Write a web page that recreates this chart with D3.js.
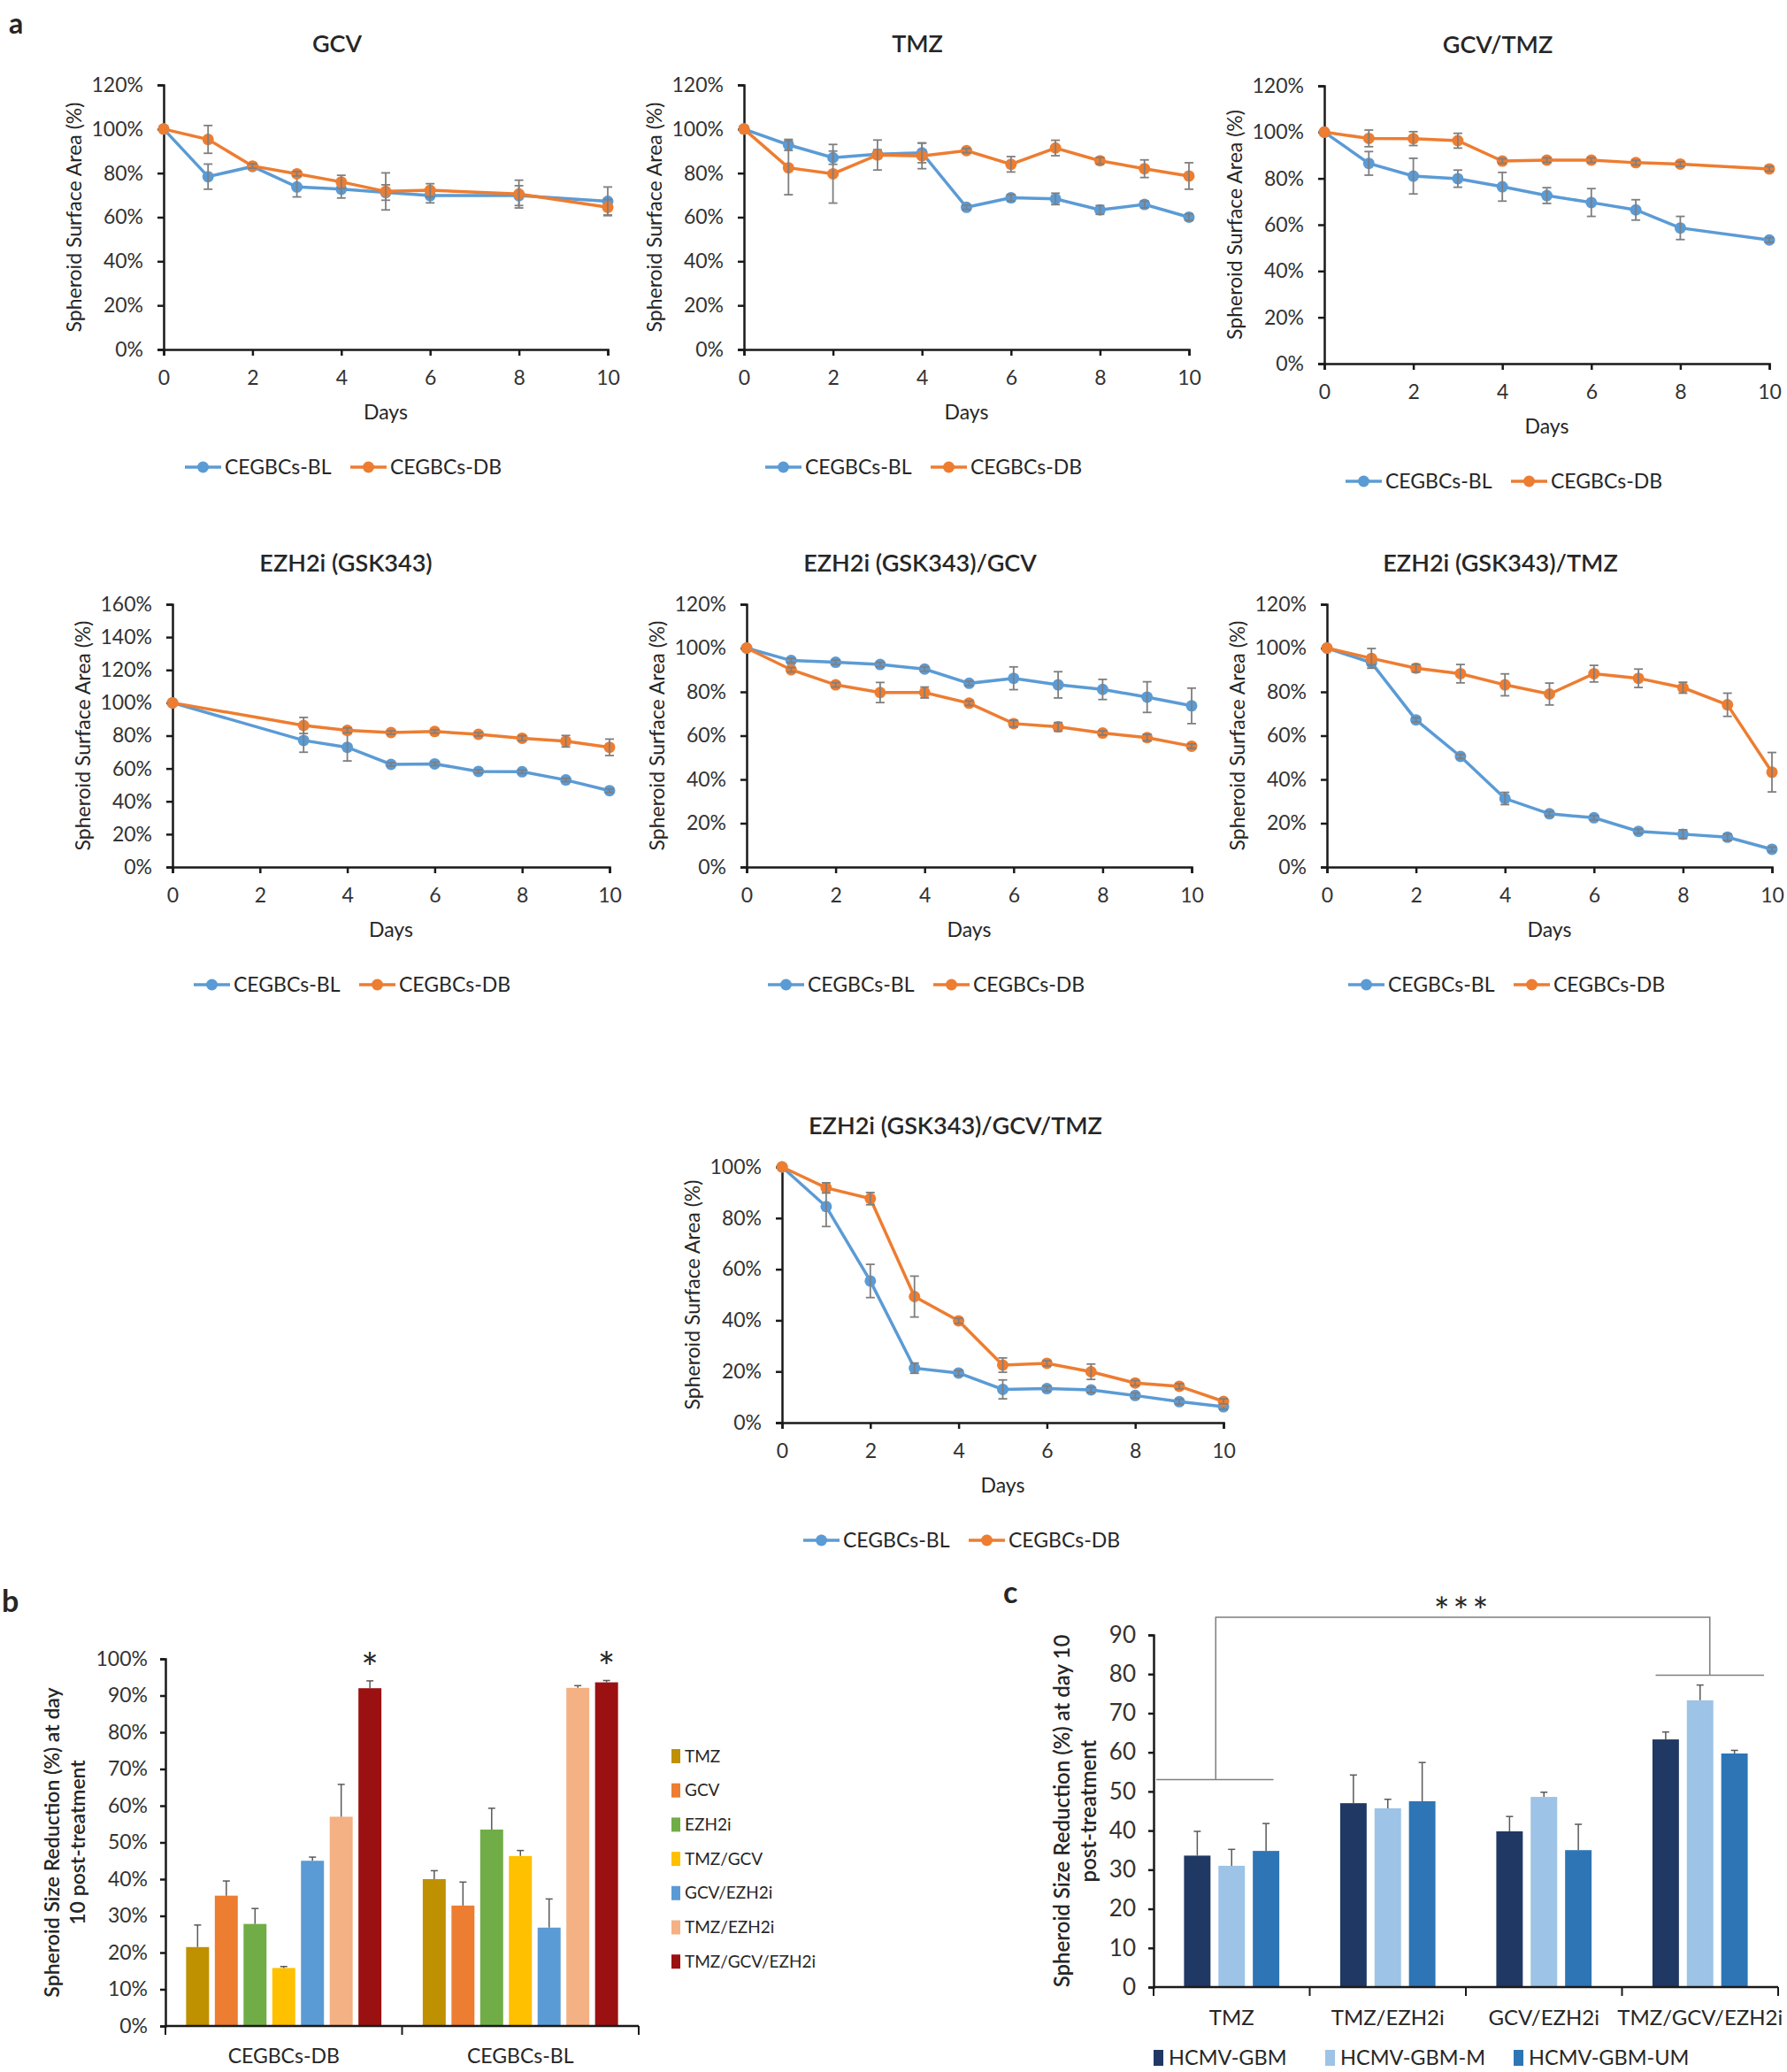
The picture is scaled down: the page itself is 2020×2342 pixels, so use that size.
<!DOCTYPE html>
<html>
<head>
<meta charset="utf-8">
<script src="https://cdnjs.cloudflare.com/ajax/libs/d3/7.8.5/d3.min.js"></script>
<style>
  body { margin: 0; background: #fff; }
  svg text { font-family: Lato, "Noto Sans", sans-serif; fill: #262626; }
  .axis path, .axis line { stroke: #1a1a1a; stroke-width: 2.5; }
  .axis text { font-size: 23px; fill: #333; }
</style>
</head>
<body>
<svg id="fig" width="2020" height="2342"></svg>
<script>
// ---------- panel a : spheroid surface area over time ----------
var seriesNames = ["CEGBCs-BL", "CEGBCs-DB"];

var gcvDays = [0, 1, 2, 3, 4, 5, 6, 8, 10];
var gcvBL = [100, 78.4, 83, 73.7, 72.7, 71.2, 69.8, 69.8, 67.2];
var gcvBLErr = [0, 5.7, 1, 4.5, 4, 3.5, 3.3, 4.5, 6.5];
var gcvDB = [100, 95.3, 83.2, 79.7, 76, 71.7, 72.2, 70.5, 64.5];
var gcvDBErr = [0, 6.3, 1, 1, 3, 8.4, 3, 6.3, 3.5];

var tmzDays = [0, 1, 2, 3, 4, 5, 6, 7, 8, 9, 10];
var tmzBL = [100, 92.8, 87, 88.6, 89.2, 64.5, 68.8, 68.3, 63.3, 65.8, 60];
var tmzBLErr = [0, 2.5, 3, 2, 4.5, 1, 1.5, 2.6, 2, 1.5, 1.5];
var tmzDB = [100, 82.4, 79.7, 88.2, 87.8, 90.2, 84, 91.4, 85.6, 82, 78.7];
var tmzDBErr = [0, 12.2, 13.3, 6.8, 5.8, 1, 3.5, 3.5, 1.5, 4, 6];

var gcvTmzDays = [0, 1, 2, 3, 4, 5, 6, 7, 8, 10];
var gcvTmzBL = [100, 86.5, 81, 79.9, 76.4, 72.6, 69.6, 66.4, 58.6, 53.4];
var gcvTmzBLErr = [0, 5.1, 7.7, 3.7, 6.2, 3.4, 6, 4.4, 5, 1];
var gcvTmzDB = [100, 97.3, 97.2, 96.3, 87.5, 87.9, 87.9, 86.8, 86.2, 84.1];
var gcvTmzDBErr = [0, 3.6, 3, 3.2, 1, 1, 1, 1, 1, 1];

var ezhDays = [0, 3, 4, 5, 6, 7, 8, 9, 10];
var ezhBL = [100, 77.1, 72.9, 62.5, 62.8, 58.2, 58, 53, 46.5];
var ezhBLErr = [0, 7.2, 8.3, 1, 1, 1, 1, 1, 1];
var ezhDB = [100, 86.2, 83.2, 81.9, 82.5, 80.8, 78.4, 76.6, 72.9];
var ezhDBErr = [0, 4.9, 1.5, 1, 1, 1, 1.5, 3.5, 5];

var ezhGcvDays = [0, 1, 2, 3, 4, 5, 6, 7, 8, 9, 10];
var ezhGcvBL = [100, 94.3, 93.5, 92.5, 90.4, 83.9, 86.2, 83.2, 81.1, 77.6, 73.6];
var ezhGcvBLErr = [0, 1, 1, 1, 1, 1, 5.2, 6, 4.6, 7, 8.1];
var ezhGcvDB = [100, 90.1, 83.2, 79.7, 79.7, 74.8, 65.5, 64, 61.2, 59.1, 55.2];
var ezhGcvDBErr = [0, 1, 1, 4.6, 2.5, 1, 1.5, 2, 1, 1.5, 1];

var ezhTmzDays = [0, 1, 2, 3, 4, 5, 6, 7, 8, 9, 10];
var ezhTmzBL = [100, 93.3, 67.2, 50.5, 31.3, 24.3, 22.5, 16.3, 15, 13.6, 8.1];
var ezhTmzBLErr = [0, 1, 1, 1, 2.8, 1, 1, 1, 2, 1.5, 1];
var ezhTmzDB = [100, 95.3, 90.8, 88.3, 83.2, 79, 88.3, 86.2, 81.9, 74.1, 43.3];
var ezhTmzDBErr = [0, 4.5, 1.8, 4.2, 5, 5, 3.8, 4.2, 2.5, 5.3, 9];

var tripleDays = [0, 1, 2, 3, 4, 5, 6, 7, 8, 9, 10];
var tripleBL = [100, 84.5, 55.4, 21.3, 19.4, 13, 13.3, 12.8, 10.6, 8.2, 6.2];
var tripleBLErr = [0, 7.8, 6.5, 2, 1, 3.7, 1, 1, 1, 1, 1];
var tripleDB = [100, 91.8, 87.6, 49.3, 39.8, 22.5, 23.2, 19.9, 15.5, 14.2, 8.3];
var tripleDBErr = [0, 2, 2.4, 8, 1, 2.8, 1, 3, 1, 1, 1];

// ---------- panel b : reduction at day 10 ----------
var treatments = ["TMZ", "GCV", "EZH2i", "TMZ/GCV", "GCV/EZH2i", "TMZ/EZH2i", "TMZ/GCV/EZH2i"];
var cellLines = ["CEGBCs-DB", "CEGBCs-BL"];
var dbReduction = [21.5, 35.5, 27.8, 15.8, 45, 57, 92];
var dbReductionErr = [6, 4, 4.2, 0.4, 1, 8.8, 2];
var blReduction = [40, 32.8, 53.5, 46.3, 26.8, 92.1, 93.6];
var blReductionErr = [2.3, 6.4, 5.8, 1.5, 7.8, 0.6, 0.5];

// ---------- panel c : HCMV-GBM cultures ----------
var treatmentsC = ["TMZ", "TMZ/EZH2i", "GCV/EZH2i", "TMZ/GCV/EZH2i"];
var culturesC = ["HCMV-GBM", "HCMV-GBM-M", "HCMV-GBM-UM"];
var gbm = [33.6, 47, 39.8, 63.3];
var gbmErr = [6.2, 7.2, 3.8, 1.9];
var gbmM = [31, 45.7, 48.6, 73.3];
var gbmMErr = [4.2, 2.3, 1.2, 3.9];
var gbmUM = [34.8, 47.5, 35, 59.7];
var gbmUMErr = [7, 9.9, 6.6, 0.8];
var bracketLevels = [53, 79.7, 94.5];

var colorBL = "#5B9BD5", colorDB = "#ED7D31";
var colorsB = ["#BF9000", "#ED7D31", "#70AD47", "#FFC000", "#5B9BD5", "#F4B183", "#9B1111"];
var colorsC = ["#203864", "#9DC3E6", "#2E75B6"];

var svg = d3.select("#fig");

// panel letters
svg.append("text").attr("x", 10).attr("y", 38).text("a").style("font-size", "32px").style("font-weight", "bold");
svg.append("text").attr("x", 2).attr("y", 1822).text("b").style("font-size", "34px").style("font-weight", "bold");
svg.append("text").attr("x", 1134).attr("y", 1812).text("c").style("font-size", "34px").style("font-weight", "bold");

var lineCharts = [
  {title: "GCV", days: gcvDays, bl: gcvBL, blErr: gcvBLErr, db: gcvDB, dbErr: gcvDBErr, yMax: 120, left: 185, right: 687, top: 96, bottom: 395},
  {title: "TMZ", days: tmzDays, bl: tmzBL, blErr: tmzBLErr, db: tmzDB, dbErr: tmzDBErr, yMax: 120, left: 841, right: 1344, top: 96, bottom: 395},
  {title: "GCV/TMZ", days: gcvTmzDays, bl: gcvTmzBL, blErr: gcvTmzBLErr, db: gcvTmzDB, dbErr: gcvTmzDBErr, yMax: 120, left: 1497, right: 2000, top: 97, bottom: 411},
  {title: "EZH2i (GSK343)", days: ezhDays, bl: ezhBL, blErr: ezhBLErr, db: ezhDB, dbErr: ezhDBErr, yMax: 160, left: 195, right: 689, top: 683, bottom: 980},
  {title: "EZH2i (GSK343)/GCV", days: ezhGcvDays, bl: ezhGcvBL, blErr: ezhGcvBLErr, db: ezhGcvDB, dbErr: ezhGcvDBErr, yMax: 120, left: 844, right: 1347, top: 683, bottom: 980},
  {title: "EZH2i (GSK343)/TMZ", days: ezhTmzDays, bl: ezhTmzBL, blErr: ezhTmzBLErr, db: ezhTmzDB, dbErr: ezhTmzDBErr, yMax: 120, left: 1500, right: 2003, top: 683, bottom: 980},
  {title: "EZH2i (GSK343)/GCV/TMZ", days: tripleDays, bl: tripleBL, blErr: tripleBLErr, db: tripleDB, dbErr: tripleDBErr, yMax: 100, left: 884, right: 1383, top: 1319, bottom: 1608}
];

lineCharts.forEach(function(p) {
  var x = d3.scaleLinear().domain([0, 10]).range([p.left, p.right]);
  var y = d3.scaleLinear().domain([0, p.yMax]).range([p.bottom, p.top]);
  var g = svg.append("g");

  g.append("text").attr("x", p.left + 196).attr("y", p.top - 46).attr("dy", "0.35em")
    .attr("text-anchor", "middle").text(p.title)
    .style("font-size", "27px").style("font-weight", "600");

  g.append("g").attr("class", "axis").attr("transform", "translate(0," + p.bottom + ")")
    .call(d3.axisBottom(x).tickValues([0, 2, 4, 6, 8, 10]).tickSizeOuter(0).tickSize(7).tickPadding(17));
  g.append("g").attr("class", "axis").attr("transform", "translate(" + p.left + ",0)")
    .call(d3.axisLeft(y).ticks(p.yMax / 20).tickSizeOuter(0).tickSize(7).tickPadding(16)
      .tickFormat(function(d) { return d + "%"; }));

  g.append("text").attr("x", (p.left + p.right) / 2).attr("y", p.bottom + 71).attr("dy", "0.35em")
    .attr("text-anchor", "middle").text("Days").style("font-size", "23px");
  g.append("text").attr("transform", "translate(" + (p.left - 101) + "," + ((p.top + p.bottom) / 2) + ") rotate(-90)")
    .attr("dy", "0.35em").attr("text-anchor", "middle").text("Spheroid Surface Area (%)").style("font-size", "23px");

  var series = [
    {name: seriesNames[0], vals: p.bl, err: p.blErr, color: colorBL},
    {name: seriesNames[1], vals: p.db, err: p.dbErr, color: colorDB}
  ];
  var line = d3.line().x(function(d) { return x(d.day); }).y(function(d) { return y(d.v); });

  series.forEach(function(s) {
    var pts = p.days.map(function(day, i) { return {day: day, v: s.vals[i], e: s.err[i]}; });
    g.append("path").datum(pts).attr("d", line)
      .attr("fill", "none").attr("stroke", s.color).attr("stroke-width", 3.5);
    g.selectAll(null).data(pts).enter().append("circle")
      .attr("cx", function(d) { return x(d.day); }).attr("cy", function(d) { return y(d.v); })
      .attr("r", 6.5).attr("fill", s.color);
    var eb = g.selectAll(null).data(pts.filter(function(d) { return d.e > 0; })).enter().append("g")
      .attr("stroke", "#7f7f7f").attr("stroke-width", 1.8);
    eb.append("line").attr("x1", function(d) { return x(d.day); }).attr("x2", function(d) { return x(d.day); })
      .attr("y1", function(d) { return y(d.v - d.e); }).attr("y2", function(d) { return y(d.v + d.e); });
    eb.append("line").attr("x1", function(d) { return x(d.day) - 5; }).attr("x2", function(d) { return x(d.day) + 5; })
      .attr("y1", function(d) { return y(d.v + d.e); }).attr("y2", function(d) { return y(d.v + d.e); });
    eb.append("line").attr("x1", function(d) { return x(d.day) - 5; }).attr("x2", function(d) { return x(d.day) + 5; })
      .attr("y1", function(d) { return y(d.v - d.e); }).attr("y2", function(d) { return y(d.v - d.e); });
  });

  // legend
  var ly = p.bottom + 133;
  series.forEach(function(s, i) {
    var lx = p.left + 24 + i * 187;
    g.append("line").attr("x1", lx).attr("x2", lx + 41).attr("y1", ly).attr("y2", ly)
      .attr("stroke", s.color).attr("stroke-width", 3.5);
    g.append("circle").attr("cx", lx + 20.5).attr("cy", ly).attr("r", 6.5).attr("fill", s.color);
    g.append("text").attr("x", lx + 45).attr("y", ly).attr("dy", "0.35em").text(s.name).style("font-size", "23px");
  });
});

// ---------- panel b ----------
(function() {
  var left = 187, right = 722, top = 1875, bottom = 2290;
  var x0 = d3.scaleBand().domain(cellLines).range([left, right]);
  var x1 = d3.scaleBand().domain(treatments).range([0, x0.bandwidth()]).paddingInner(0.2).paddingOuter(0.72);
  var y = d3.scaleLinear().domain([0, 100]).range([bottom, top]);
  var g = svg.append("g");
  var vals = {"CEGBCs-DB": [dbReduction, dbReductionErr], "CEGBCs-BL": [blReduction, blReductionErr]};

  g.append("g").attr("class", "axis").attr("transform", "translate(" + left + ",0)")
    .call(d3.axisLeft(y).ticks(10).tickSizeOuter(0).tickSize(6).tickPadding(14)
      .tickFormat(function(d) { return d + "%"; }));

  cellLines.forEach(function(cl) {
    var v = vals[cl][0], e = vals[cl][1];
    var data = treatments.map(function(t, i) { return {t: t, v: v[i], e: e[i], c: colorsB[i]}; });
    var gg = g.append("g").attr("transform", "translate(" + x0(cl) + ",0)");
    gg.selectAll("rect").data(data).enter().append("rect")
      .attr("x", function(d) { return x1(d.t); }).attr("width", x1.bandwidth())
      .attr("y", function(d) { return y(d.v); }).attr("height", function(d) { return bottom - y(d.v); })
      .attr("fill", function(d) { return d.c; });
    var eb = gg.selectAll(null).data(data).enter().append("g").attr("stroke", "#595959").attr("stroke-width", 1.5);
    eb.append("line").attr("x1", function(d) { return x1(d.t) + x1.bandwidth() / 2; })
      .attr("x2", function(d) { return x1(d.t) + x1.bandwidth() / 2; })
      .attr("y1", function(d) { return y(d.v); }).attr("y2", function(d) { return y(d.v + d.e); });
    eb.append("line").attr("x1", function(d) { return x1(d.t) + x1.bandwidth() / 2 - 4; })
      .attr("x2", function(d) { return x1(d.t) + x1.bandwidth() / 2 + 4; })
      .attr("y1", function(d) { return y(d.v + d.e); }).attr("y2", function(d) { return y(d.v + d.e); });
    var last = data[data.length - 1];
    gg.append("text").attr("x", x1(last.t) + x1.bandwidth() / 2).attr("y", y(last.v + last.e) + 2)
      .attr("text-anchor", "middle").text("*").style("font-size", "46px");
    g.append("text").attr("x", x0(cl) + x0.bandwidth() / 2).attr("y", 2324).attr("dy", "0.35em")
      .attr("text-anchor", "middle").text(cl).style("font-size", "23px");
  });

  // x axis with ticks between groups
  g.append("line").attr("x1", left).attr("x2", right).attr("y1", bottom).attr("y2", bottom)
    .attr("stroke", "#1a1a1a").attr("stroke-width", 2.5);
  g.selectAll(null).data([left, x0(cellLines[1]), right]).enter().append("line")
    .attr("x1", function(d) { return d; }).attr("x2", function(d) { return d; })
    .attr("y1", bottom).attr("y2", bottom + 10).attr("stroke", "#1a1a1a").attr("stroke-width", 2);

  var yl = g.append("text").attr("transform", "translate(72," + ((top + bottom) / 2) + ") rotate(-90)")
    .attr("text-anchor", "middle").style("font-size", "23px").style("font-weight", "600");
  yl.append("tspan").attr("x", 0).attr("dy", "-0.2em").text("Spheroid Size Reduction (%) at day");
  yl.append("tspan").attr("x", 0).attr("dy", "1.25em").text("10 post-treatment");

  var lg = g.selectAll(".lgb").data(treatments).enter().append("g")
    .attr("transform", function(d, i) { return "translate(759," + (1985 + i * 38.7) + ")"; });
  lg.append("rect").attr("x", 0).attr("y", -8).attr("width", 10).attr("height", 16)
    .attr("fill", function(d, i) { return colorsB[i]; });
  lg.append("text").attr("x", 15).attr("dy", "0.35em").text(function(d) { return d; }).style("font-size", "19px");
})();

// ---------- panel c ----------
(function() {
  var left = 1304, right = 2010, top = 1848, bottom = 2246;
  var x0 = d3.scaleBand().domain(treatmentsC).range([left, right]);
  var x1 = d3.scaleBand().domain(culturesC).range([0, x0.bandwidth()]).paddingInner(0.23).paddingOuter(0.885);
  var y = d3.scaleLinear().domain([0, 90]).range([bottom, top]);
  var g = svg.append("g");
  var series = [[gbm, gbmErr], [gbmM, gbmMErr], [gbmUM, gbmUMErr]];

  g.append("g").attr("class", "axis").attr("transform", "translate(" + left + ",0)")
    .call(d3.axisLeft(y).ticks(9).tickSizeOuter(0).tickSize(6).tickPadding(14))
    .selectAll("text").style("font-size", "26px");

  treatmentsC.forEach(function(t, ti) {
    var data = culturesC.map(function(c, ci) { return {c: c, v: series[ci][0][ti], e: series[ci][1][ti], col: colorsC[ci]}; });
    var gg = g.append("g").attr("transform", "translate(" + x0(t) + ",0)");
    gg.selectAll("rect").data(data).enter().append("rect")
      .attr("x", function(d) { return x1(d.c); }).attr("width", x1.bandwidth())
      .attr("y", function(d) { return y(d.v); }).attr("height", function(d) { return bottom - y(d.v); })
      .attr("fill", function(d) { return d.col; });
    var eb = gg.selectAll(null).data(data).enter().append("g").attr("stroke", "#595959").attr("stroke-width", 1.5);
    eb.append("line").attr("x1", function(d) { return x1(d.c) + x1.bandwidth() / 2; })
      .attr("x2", function(d) { return x1(d.c) + x1.bandwidth() / 2; })
      .attr("y1", function(d) { return y(d.v); }).attr("y2", function(d) { return y(d.v + d.e); });
    eb.append("line").attr("x1", function(d) { return x1(d.c) + x1.bandwidth() / 2 - 4; })
      .attr("x2", function(d) { return x1(d.c) + x1.bandwidth() / 2 + 4; })
      .attr("y1", function(d) { return y(d.v + d.e); }).attr("y2", function(d) { return y(d.v + d.e); });
    g.append("text").attr("x", x0(t) + x0.bandwidth() / 2).attr("y", 2281).attr("dy", "0.35em")
      .attr("text-anchor", "middle").text(t).style("font-size", "24px");
  });

  g.append("line").attr("x1", left).attr("x2", right).attr("y1", bottom).attr("y2", bottom)
    .attr("stroke", "#1a1a1a").attr("stroke-width", 2.5);
  g.selectAll(null).data(treatmentsC.map(function(t) { return x0(t); }).concat([right])).enter().append("line")
    .attr("x1", function(d) { return d; }).attr("x2", function(d) { return d; })
    .attr("y1", bottom).attr("y2", bottom + 10).attr("stroke", "#1a1a1a").attr("stroke-width", 2);

  // significance bracket
  var bx1 = x0(treatmentsC[0]) + x0.bandwidth() / 2 - 18;
  var bx2 = x0(treatmentsC[3]) + x0.bandwidth() / 2 + 11;
  var br = g.append("g").attr("stroke", "#7f7f7f").attr("stroke-width", 1.5).attr("fill", "none");
  br.append("line").attr("x1", left + 3).attr("x2", x0(treatmentsC[0]) + x0.bandwidth() - 41)
    .attr("y1", y(bracketLevels[0])).attr("y2", y(bracketLevels[0]));
  br.append("line").attr("x1", x0(treatmentsC[3]) + 38).attr("x2", right - 16)
    .attr("y1", y(bracketLevels[1])).attr("y2", y(bracketLevels[1]));
  br.append("path").attr("d", "M" + bx1 + "," + y(bracketLevels[0]) + "V" + y(bracketLevels[2]) +
    "H" + bx2 + "V" + y(bracketLevels[1]));
  g.append("text").attr("x", (bx1 + bx2) / 2).attr("y", y(bracketLevels[2]) + 8).attr("text-anchor", "middle")
    .text("***").style("font-size", "42px").style("letter-spacing", "4px");

  var yl = g.append("text").attr("transform", "translate(1214," + ((top + bottom) / 2) + ") rotate(-90)")
    .attr("text-anchor", "middle").style("font-size", "24px").style("font-weight", "600");
  yl.append("tspan").attr("x", 0).attr("dy", "-0.2em").text("Spheroid Size Reduction (%) at day 10");
  yl.append("tspan").attr("x", 0).attr("dy", "1.25em").text("post-treatment");

  var lxs = [1304, 1498, 1711];
  culturesC.forEach(function(c, i) {
    g.append("rect").attr("x", lxs[i]).attr("y", 2317).attr("width", 11).attr("height", 18).attr("fill", colorsC[i]);
    g.append("text").attr("x", lxs[i] + 17).attr("y", 2326).attr("dy", "0.35em").text(c).style("font-size", "23.5px");
  });
})();
</script>
</body>
</html>
